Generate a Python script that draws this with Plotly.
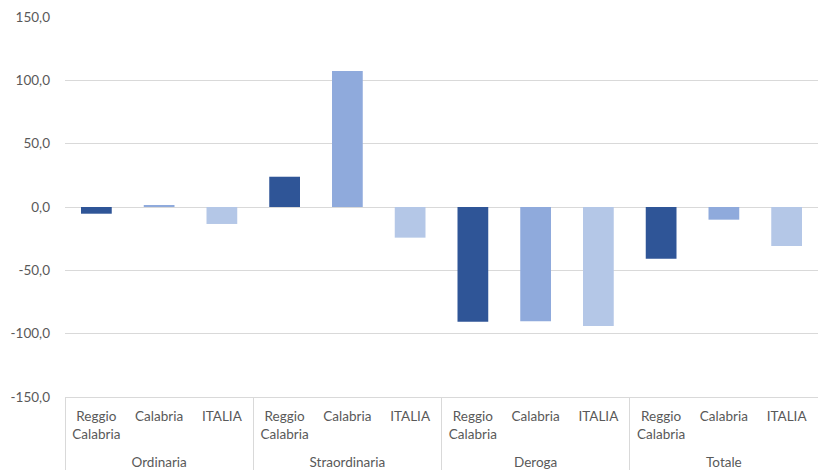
import plotly.graph_objects as go

# Categories of the chart
groups = ["Ordinaria", "Straordinaria", "Deroga", "Totale"]
areas = ["Reggio<br>Calabria", "Calabria", "ITALIA"]

# Percentage change by group, one list per area
reggio = [-5.3, 23.9, -90.5, -40.8]
calabria = [0.8, 107.4, -90.2, -10.0]
italia = [-13.4, -24.2, -93.9, -30.8]

# Y axis ticks, written with a plain hyphen and a decimal comma
y_ticks = [-150, -100, -50, 0, 50, 100, 150]
y_tick_labels = ["-150,0", "-100,0", "-50,0", "0,0", "50,0", "100,0", "150,0"]

colors = {"Reggio<br>Calabria": "#2F5597", "Calabria": "#8FAADC", "ITALIA": "#B4C7E7"}
series = {"Reggio<br>Calabria": reggio, "Calabria": calabria, "ITALIA": italia}

x_outer, x_inner, y_vals, bar_colors = [], [], [], []
for gi, g in enumerate(groups):
    for a in areas:
        # a leading line break pushes the group label further below the area labels
        x_outer.append("<br>" + g)
        x_inner.append(a)
        y_vals.append(series[a][gi])
        bar_colors.append(colors[a])

fig = go.Figure(
    go.Bar(
        x=[x_outer, x_inner],
        y=y_vals,
        marker=dict(color=bar_colors, line=dict(width=0)),
        width=0.49,
    )
)

font_family = "Lato, Liberation Sans, Arial, sans-serif"

fig.update_layout(
    width=818,
    height=470,
    margin=dict(l=65, r=0, t=17, b=73),
    plot_bgcolor="white",
    paper_bgcolor="white",
    showlegend=False,
    font=dict(family=font_family, size=13, color="#595959"),
    xaxis=dict(
        type="multicategory",
        automargin=False,
        showgrid=False,
        showline=True,
        linecolor="#D9D9D9",
        linewidth=1,
        showdividers=True,
        dividercolor="#D9D9D9",
        dividerwidth=1,
        ticks="",
        ticklabelstandoff=7,
        tickfont=dict(size=13.5, color="#595959"),
    ),
    yaxis=dict(
        range=[-150, 150],
        tickmode="array",
        tickvals=y_ticks,
        ticktext=y_tick_labels,
        automargin=False,
        showgrid=True,
        gridcolor="#D9D9D9",
        gridwidth=1,
        zeroline=True,
        zerolinecolor="#D9D9D9",
        zerolinewidth=1,
        showline=False,
        ticks="",
        ticklabelstandoff=14,
        tickfont=dict(size=13.5, color="#595959"),
    ),
)

fig.write_html("out.html")
